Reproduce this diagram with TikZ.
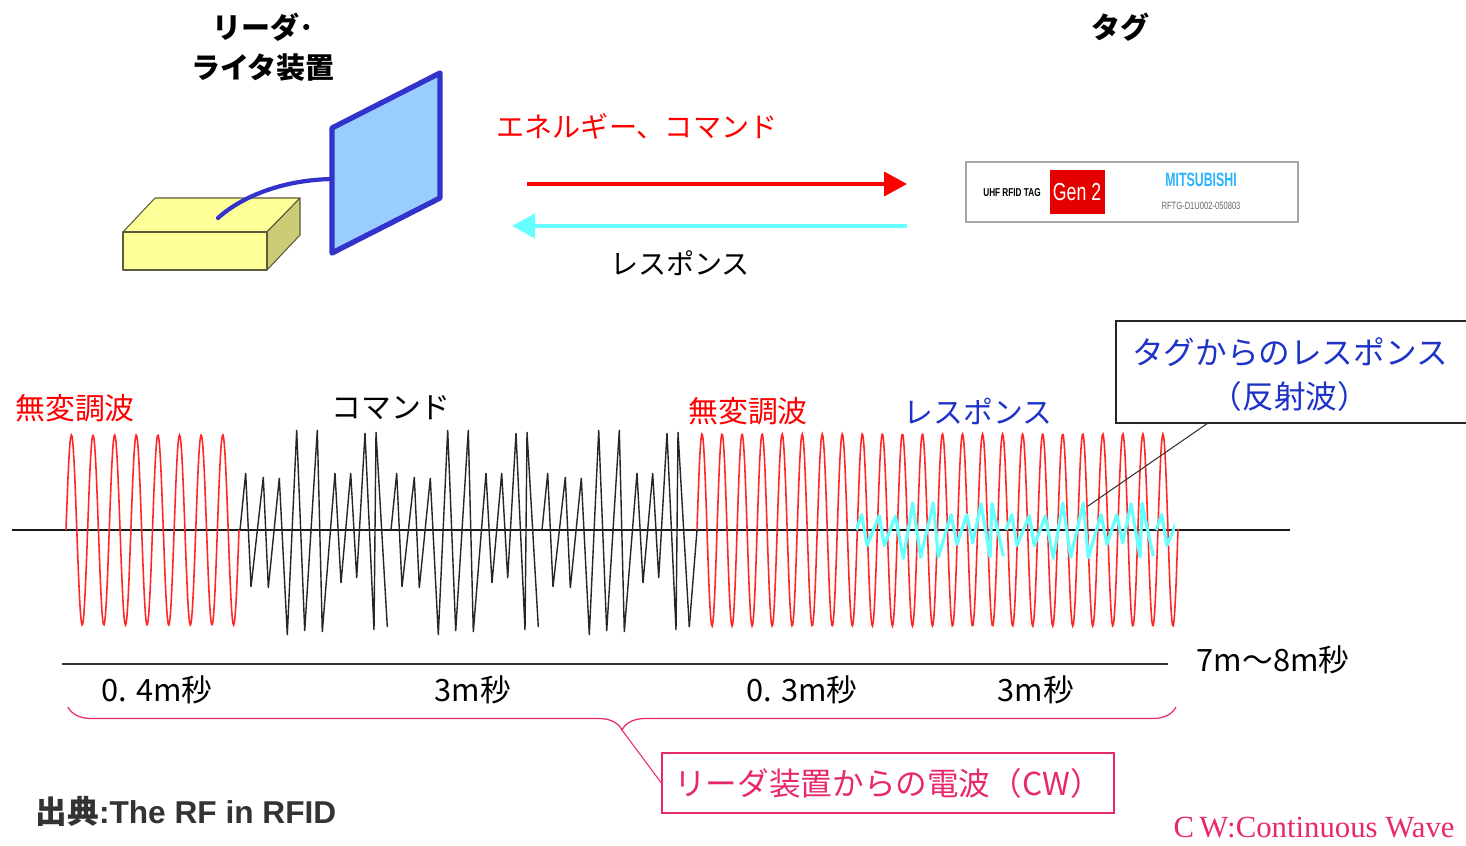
\documentclass[tikz,border=0pt]{standalone}
\usepackage{fontspec}
\setmainfont{Liberation Sans}
\newfontfamily\jp{Noto Sans CJK JP}
\newfontfamily\serifen{Liberation Serif}
\usetikzlibrary{arrows.meta,decorations.pathreplacing}

\definecolor{cwpink}{RGB}{232,40,110}
\definecolor{respblue}{RGB}{30,50,200}
\definecolor{panelblue}{RGB}{153,204,255}
\definecolor{paneledge}{RGB}{51,51,204}
\definecolor{boxyellow}{RGB}{255,255,153}
\definecolor{boxside}{RGB}{204,204,119}
\definecolor{boxedge}{RGB}{90,90,60}
\definecolor{backcyan}{RGB}{102,255,255}
\definecolor{mitsublue}{RGB}{40,180,255}

\tikzset{
  title/.style={font=\jp\bfseries\fontsize{16.5}{22.7}\selectfont, align=center},
  linklbl/.style={font=\jp\fontsize{16}{19}\selectfont},
  wavelbl/.style={font=\jp\fontsize{17}{20}\selectfont},
  timelbl/.style={font=\jp\fontsize{17.5}{20}\selectfont},
  boxline/.style={draw=boxedge, line width=0.6pt, line join=round},
  downlink/.style={red, line width=2.3pt, -{Triangle[length=4.6mm,width=4.8mm]}},
  uplink/.style={backcyan, line width=2.3pt, -{Triangle[length=4.6mm,width=4.8mm]}},
  carrier/.style={red!85, line width=0.9pt},
  cmdwave/.style={black!85, line width=0.8pt},
  respwave/.style={backcyan, line width=1.8pt, line join=round},
  cwbrace/.style={cwpink, line width=0.7pt, decorate,
    decoration={brace, mirror, amplitude=0.46cm}},
}

% one burst of the command signal, relative to its start on the axis
\newcommand\burstpts{5.7/-57, 11/57, 23.3/-53, 28.3/58, 39.3/-52, 47.3/105,
  56.7/-100, 64.7/101, 77.3/-100, 82.3/102, 95/-57, 101/53, 110.7/-57,
  116.7/48, 125/-97, 134/100, 136/-98, 147.3/97}

\begin{document}
\begin{tikzpicture}[x=0.02cm, y=-0.02cm, every node/.style={inner sep=0pt}]
  \useasboundingbox (0,0) rectangle (1466,845);
  \clip (0,0) rectangle (1466,845);

  % titles
  \node[title] (rwtitle) at (263,47) {リーダ･\\ライタ装置};
  \node[title] (tagtitle) at (1120,27) {タグ};

  % reader box
  \draw[boxline, fill=boxyellow] (123,232) -- (155,198) -- (300,198) -- (267,232) -- cycle;
  \draw[boxline, fill=boxside] (267,232) -- (300,198) -- (300,235) -- (267,270) -- cycle;
  \draw[boxline, fill=boxyellow] (123,232) rectangle (267,270);
  % cable and antenna
  \draw[paneledge, line width=2.4pt, line cap=round] (218,218) .. controls (240,198) and (280,180) .. (332,179);
  \draw[paneledge, line width=3pt, fill=panelblue, line join=round] (332,128) -- (440,73) -- (440,198) -- (332,253) -- cycle;

  % links
  \coordinate (txL) at (527,184);
  \coordinate (txR) at (907,184);
  \coordinate (rxR) at (907,226);
  \coordinate (rxL) at (512,226);
  \draw[downlink] (txL) -- (txR);
  \draw[uplink] (rxR) -- (rxL);
  \node[linklbl, text=red] (energy) at (637,126) {エネルギー、コマンド};
  \node[linklbl] (answer) at (680,263) {レスポンス};

  % tag label
  \node[draw=black!35, line width=1.2pt, fill=white, minimum width=6.64cm, minimum height=1.2cm] (tag) at (1132,192) {};
  \node[fill=red!90!black, minimum width=1.1cm, minimum height=0.88cm] (genbox) at (1077,192) {};
  \node[text=white, font=\fontsize{14}{16}\selectfont, xscale=0.72] (gentext) at (genbox) {Gen 2};
  \node[font=\bfseries\fontsize{6.5}{7}\selectfont, xscale=0.72] (tagtype) at (1012,193) {UHF RFID TAG};
  \node[text=mitsublue, font=\bfseries\fontsize{11}{12}\selectfont, xscale=0.64] (maker) at (1201,180) {MITSUBISHI};
  \node[text=black!60, font=\fontsize{6}{7}\selectfont, xscale=0.72] (partno) at (1201,206) {RFTG-D1U002-050803};

  % wave labels
  \node[wavelbl, text=red] (cw1) at (75,408) {無変調波};
  \node[wavelbl] (cmd) at (391,408) {コマンド};
  \node[wavelbl, text=red] (cw2) at (748,411) {無変調波};
  \node[wavelbl, text=respblue] (rsp) at (978,411) {レスポンス};

  % signals
  \draw[black!90, line width=1pt] (12,530) -- (1290,530);
  \draw[carrier] plot[domain=66:239, samples=260] (\x, {530-95*sin((\x-66)*16.647)});
  \foreach \s in {240,391,542}
    \draw[cmdwave, shift={(\s,530)}] (0,0) \foreach \px/\py in \burstpts { -- (\px,\py) };
  \draw[cmdwave] (689.3,627) -- (697,530);
  \draw[carrier] plot[domain=697:1178, samples=700] (\x, {530-96*sin((\x-697)*17.964)});
  \begin{scope}
    \clip (856,400) rectangle (1175,660);
    \foreach \s in {856,1006,1156}
      \draw[respwave, shift={(\s,530)}, yscale=0.27] (0,0) \foreach \px/\py in \burstpts { -- (\px,\py) };
  \end{scope}

  % callout for the reflected wave
  \node[text=respblue, font=\jp\fontsize{18}{25}\selectfont, align=center] (resptxt) at (1290,375) {タグからのレスポンス\\（反射波）};
  \draw[black!85, line width=0.8pt] (1470,321) -| (1116,423) -- (1470,423);
  \coordinate (callfoot) at (1208,423);
  \coordinate (echo) at (1088,506);
  \draw[black!80, line width=0.6pt] (callfoot) -- (echo);

  % timing
  \draw[black!80, line width=1.4pt] (62,664) -- (1168,664);
  \node[timelbl] (ttotal) at (1273,660) {7m～8m秒};
  \node[timelbl] (t1) at (157,690) {0. 4m秒};
  \node[timelbl] (t2) at (473,690) {3m秒};
  \node[timelbl] (t3) at (802,690) {0. 3m秒};
  \node[timelbl] (t4) at (1036,690) {3m秒};

  % reader wave brace
  \draw[cwbrace] (68,707) -- (1176,707);
  \coordinate (bracetip) at (622,730);
  \node[draw=cwpink, line width=0.8pt, minimum width=9.04cm, minimum height=1.2cm,
    text=cwpink, font=\jp\fontsize{18}{20}\selectfont] (cwbox) at (888,783) {リーダ装置からの電波（CW）};
  \draw[cwpink, line width=0.6pt] (bracetip) -- (cwbox.west);

  % footer
  \node[text=black!80, font=\bfseries\fontsize{18}{20}\selectfont] (source) at (186,811) {{\jp 出典}:The RF in RFID};
  \node[text=cwpink, font=\serifen\fontsize{17.5}{20}\selectfont] (cwnote) at (1314,828) {C\kern3pt W:Continuous Wave};
\end{tikzpicture}
\end{document}
